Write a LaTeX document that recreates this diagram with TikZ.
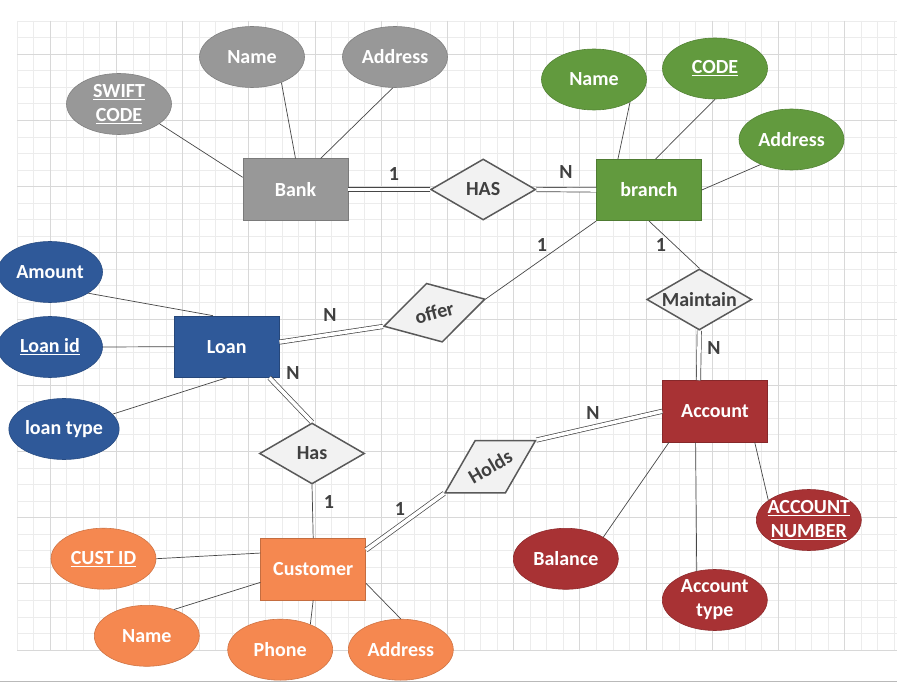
\documentclass[tikz,border=0pt]{standalone}
\usepackage{fontspec}
\setmainfont{Carlito}
\usetikzlibrary{shapes.geometric}

\definecolor{bankgray}{RGB}{152,152,152}
\definecolor{branchgreen}{RGB}{98,154,62}
\definecolor{loanblue}{RGB}{47,89,153}
\definecolor{custorange}{RGB}{245,136,80}
\definecolor{accred}{RGB}{168,50,52}
\definecolor{relfill}{RGB}{242,242,242}
\definecolor{relline}{RGB}{89,89,89}
\definecolor{linkgray}{RGB}{70,70,70}
\definecolor{cardgray}{RGB}{64,64,64}
\definecolor{gridminor}{RGB}{236,236,236}
\definecolor{gridmajor}{RGB}{216,216,216}

\begin{document}
\begin{tikzpicture}[x=1pt,y=-1pt,
    entity/.style={rectangle,draw=#1!80!black,line width=0.6pt,fill=#1,
      minimum width=105pt,minimum height=61.5pt,inner sep=0pt,text=white,
      font=\bfseries\fontsize{20}{24}\selectfont},
    attr/.style={ellipse,draw=#1!85!black,line width=0.6pt,fill=#1,
      minimum width=105pt,minimum height=61pt,inner sep=0pt,text=white,
      align=center,font=\bfseries\fontsize{20}{24}\selectfont},
    rel/.style={diamond,draw=relline,line width=1.5pt,fill=relfill,aspect=1.72,
      minimum width=105pt,minimum height=61pt,inner sep=0pt,text=cardgray,
      font=\bfseries\fontsize{20}{24}\selectfont},
    link/.style={draw=linkgray,line width=0.7pt},
    dbl/.style={draw=linkgray,line width=0.7pt,double=white,double distance=3.6pt},
    card/.style={text=cardgray,font=\bfseries\fontsize{20}{24}\selectfont}]

  % page and grid
  \useasboundingbox (0,0) rectangle (897,684);
  \fill[white] (0,0) rectangle (897,684);
  \foreach \i in {0,...,53}
    \draw[gridminor,line width=0.6pt] ({17+16.55*\i},21) -- ({17+16.55*\i},650);
  \foreach \j in {0,...,38}
    \draw[gridminor,line width=0.6pt] (17,{21+16.55*\j}) -- (897,{21+16.55*\j});
  \foreach \i in {2,6,...,50}
    \draw[gridmajor,line width=0.7pt] ({17+16.55*\i},21) -- ({17+16.55*\i},650);
  \foreach \j in {2,6,...,38}
    \draw[gridmajor,line width=0.7pt] (17,{21+16.55*\j}) -- (897,{21+16.55*\j});
  \draw[gray!55,line width=1.5pt] (0,681.5) -- (897,681.5);

  % bank
  \node[entity=bankgray] (bank) at (295.5,189.5) {Bank};
  \node[attr=bankgray] (bname) at (252,57) {Name};
  \node[attr=bankgray] (baddr) at (395,57) {Address};
  \node[attr=bankgray,inner sep=-8pt] (swift) at (119,104) {\underline{SWIFT}\\\underline{CODE}};

  % branch
  \node[rel] (hasbr) at (483.2,189.5) {HAS};
  \node[entity=branchgreen] (branch) at (649,190) {branch};
  \node[attr=branchgreen] (brname) at (594,79.5) {Name};
  \node[attr=branchgreen] (brcode) at (715,68.5) {\underline{CODE}};
  \node[attr=branchgreen] (braddr) at (791.5,139.5) {Address};

  % loan
  \node[rel,rotate=15] (offer) at (434.4,312.7) {offer};
  \node[entity=loanblue] (loan) at (226.7,346.7) {Loan};
  \node[attr=loanblue] (amount) at (50,272) {Amount};
  \node[attr=loanblue] (loanid) at (50,347) {\underline{Loan id}};
  \node[attr=loanblue] (ltype) at (64,429) {loan type};

  % customer
  \node[rel] (hascl) at (312,453.5) {Has};
  \node[entity=custorange] (customer) at (313.2,569.2) {Customer};
  \node[attr=custorange] (custid) at (103.5,558.7) {\underline{CUST ID}};
  \node[attr=custorange] (cname) at (146.8,635.8) {Name};
  \node[attr=custorange] (phone) at (280.2,649.7) {Phone};
  \node[attr=custorange] (caddr) at (400.8,649.7) {Address};

  % account
  \node[rel] (maintain) at (699.3,299.5) {Maintain};
  \node[rel,rotate=30] (holds) at (490.3,466.7) {Holds};
  \node[entity=accred] (account) at (715,411.3) {Account};
  \node[attr=accred] (balance) at (565.8,558.8) {Balance};
  \node[attr=accred,inner sep=-8pt] (acctype) at (714.8,600) {Account\\type};
  \node[attr=accred,inner sep=-8pt] (accno) at (808.8,520) {\underline{ACCOUNT}\\\underline{NUMBER}};

  % attribute links
  \draw[link] (swift.-26) -- (bank.167);
  \draw[link] (bname.-41) -- (bank.north);
  \draw[link] (baddr.-94) -- (bank.51);
  \draw[link] (brname.-32) -- (branch.135);
  \draw[link] (brcode.south) -- (branch.78);
  \draw[link] (braddr.-141) -- (branch.east);
  \draw[link] (amount.-29) -- (loan.114);
  \draw[link] (loanid.east) -- (loan.west);
  \draw[link] (ltype.17) -- (loan.south);
  \draw[link] (custid.east) -- (customer.163);
  \draw[link] (cname.44) -- (customer.194);
  \draw[link] (phone.40) -- (customer.south);
  \draw[link] (caddr.north) -- (customer.-15);
  \draw[link] (balance.30) -- (account.-146);
  \draw[link] (acctype.122) -- (account.-122);
  \draw[link] (accno.154) -- (account.-38);

  % relationship links
  \draw[dbl] (bank.east) -- (hasbr.west);
  \draw[dbl] (hasbr.east) -- (branch.west);
  \draw[link] (branch.south west) -- (offer.east);
  \draw[link] (branch.south) -- (maintain.north);
  \draw[dbl] (maintain.south) -- (account.118);
  \draw[dbl] (loan.5) -- (offer.west);
  \draw[dbl] (loan.-36) -- (hascl.north);
  \draw[link] (hascl.south) -- (customer.north);
  \draw[dbl] (customer.20) -- (holds.west);
  \draw[dbl] (holds.east) -- (account.west);

  % cardinalities
  \node[card] (c1) at (394,174) {1};
  \node[card] (c2) at (566,172) {N};
  \node[card] (c3) at (542,245) {1};
  \node[card] (c4) at (661,245) {1};
  \node[card] (c5) at (330,315) {N};
  \node[card] (c6) at (293,373) {N};
  \node[card] (c7) at (329,502) {1};
  \node[card] (c8) at (400,509) {1};
  \node[card] (c9) at (593,413) {N};
  \node[card] (c10) at (714,348) {N};
\end{tikzpicture}
\end{document}
